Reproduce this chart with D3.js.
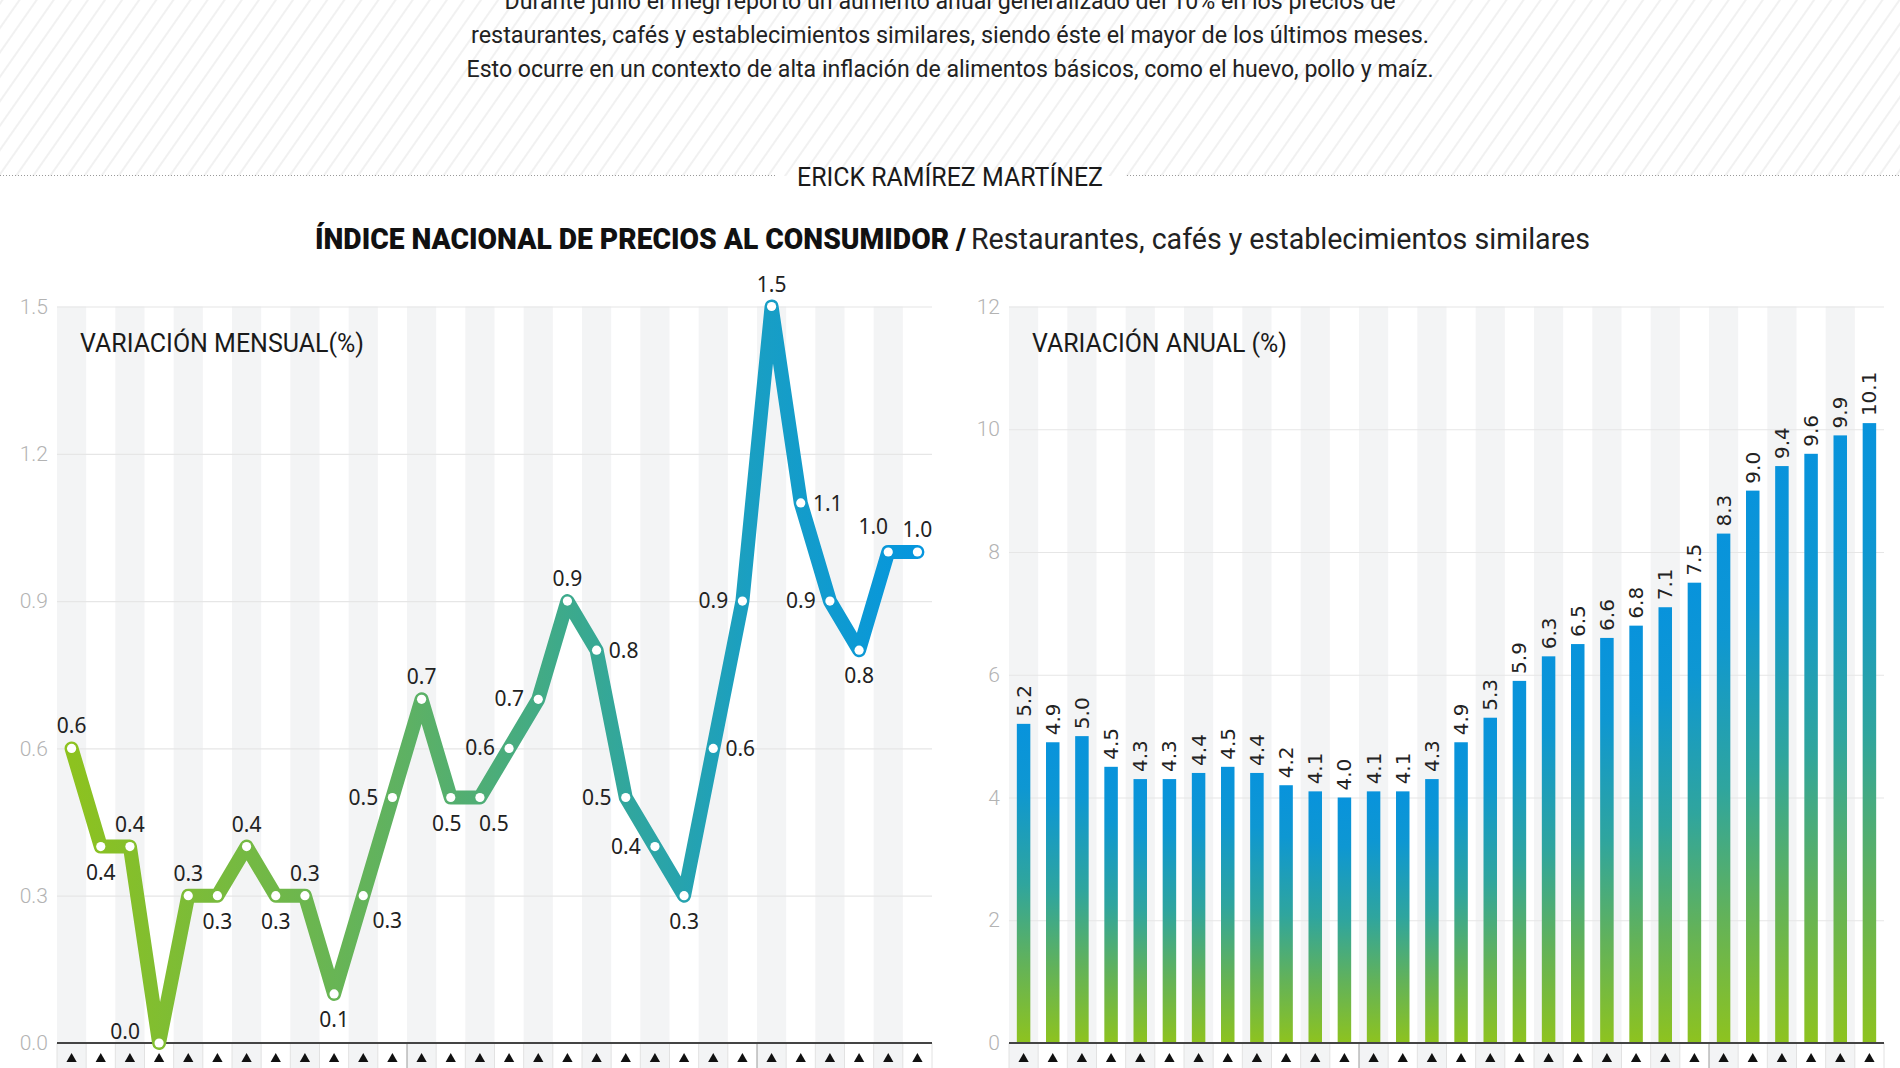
<!DOCTYPE html>
<html><head><meta charset="utf-8">
<script src="https://cdn.jsdelivr.net/npm/d3@7"></script>
<style>html,body{margin:0;padding:0;background:#fff;overflow:hidden}</style>
</head><body><svg id="c" width="1900" height="1068"></svg>
<script>
// ---------- DATA ----------
const months = ["ene 2020","feb 2020","mar 2020","abr 2020","may 2020","jun 2020","jul 2020","ago 2020","sep 2020","oct 2020","nov 2020","dic 2020",
                "ene 2021","feb 2021","mar 2021","abr 2021","may 2021","jun 2021","jul 2021","ago 2021","sep 2021","oct 2021","nov 2021","dic 2021",
                "ene 2022","feb 2022","mar 2022","abr 2022","may 2022","jun 2022"];
const monthly = [0.6,0.4,0.4,0.0,0.3,0.3,0.4,0.3,0.3,0.1,0.3,0.5,0.7,0.5,0.5,0.6,0.7,0.9,0.8,0.5,0.4,0.3,0.6,0.9,1.5,1.1,0.9,0.8,1.0,1.0];
const monthlyLabelSide = ["t","b","t","tl","t","b","t","b","t","b","br","l","t","bl","bR","l","l","t","r","l","l","b","r","l","t","r","l","b","tL","t"];
const annual = [5.2,4.9,5.0,4.5,4.3,4.3,4.4,4.5,4.4,4.2,4.1,4.0,4.1,4.1,4.3,4.9,5.3,5.9,6.3,6.5,6.6,6.8,7.1,7.5,8.3,9.0,9.4,9.6,9.9,10.1];
const monthlyTicks = [0,0.3,0.6,0.9,1.2,1.5];
const annualTicks = [0,2,4,6,8,10,12];
const introLines = [
  "Durante junio el Inegi reportó un aumento anual generalizado del 10% en los precios de",
  "restaurantes, cafés y establecimientos similares, siendo éste el mayor de los últimos meses.",
  "Esto ocurre en un contexto de alta inflación de alimentos básicos, como el huevo, pollo y maíz."
];
const author = "ERICK RAMÍREZ MARTÍNEZ";
const titleBold = "ÍNDICE NACIONAL DE PRECIOS AL CONSUMIDOR /";
const titleRegular = "Restaurantes, cafés y establecimientos similares";
const leftTitle = "VARIACIÓN MENSUAL(%)";
const rightTitle = "VARIACIÓN ANUAL (%)";

// ---------- LAYOUT / STYLE ----------
const W = 1900, H = 1068;
const cond = "Roboto, 'Noto Sans', sans-serif";
const svg = d3.select("#c");
const defs = svg.append("defs");

// hatch
const pat = defs.append("pattern").attr("id","hatch").attr("patternUnits","userSpaceOnUse")
  .attr("width",14).attr("height",14).attr("patternTransform","rotate(35)");
pat.append("rect").attr("width",14).attr("height",14).attr("fill","#fff");
pat.append("line").attr("x1",2).attr("x2",2).attr("y1",0).attr("y2",14).attr("stroke","#f0f0f0").attr("stroke-width",1.8);
svg.append("rect").attr("x",0).attr("y",0).attr("width",W).attr("height",176).attr("fill","url(#hatch)");

// intro text
const introY = [9, 43, 77], introLen = [891, 958, 967];
introLines.forEach((t,i)=>{
  svg.append("text").attr("x",W/2).attr("y",introY[i]).attr("text-anchor","middle")
    .attr("font-family",cond).attr("font-size",24).attr("fill","#222")
    .attr("textLength",introLen[i]).attr("lengthAdjust","spacingAndGlyphs").text(t);
});

// separator + author
svg.append("line").attr("x1",0).attr("x2",775).attr("y1",175.5).attr("y2",175.5)
  .attr("stroke","#9a9a9a").attr("stroke-width",1).attr("stroke-dasharray","1,2");
svg.append("line").attr("x1",1127).attr("x2",W).attr("y1",175.5).attr("y2",175.5)
  .attr("stroke","#9a9a9a").attr("stroke-width",1).attr("stroke-dasharray","1,2");
svg.append("text").attr("x",W/2).attr("y",186).attr("text-anchor","middle")
  .attr("font-family",cond).attr("font-size",26).attr("fill","#1a1a1a")
  .attr("textLength",306).attr("lengthAdjust","spacingAndGlyphs").text(author);

// title
svg.append("text").attr("x",315).attr("y",249).attr("font-family",cond).attr("font-weight",900)
  .attr("font-size",30).attr("fill","#111").attr("textLength",651).attr("lengthAdjust","spacingAndGlyphs").text(titleBold);
svg.append("text").attr("x",971).attr("y",249).attr("font-family",cond).attr("font-weight",400)
  .attr("font-size",30).attr("fill","#222").attr("textLength",619).attr("lengthAdjust","spacingAndGlyphs").text(titleRegular);

const plotTop = 306.5, base = 1043;

// gradients
const lg = defs.append("linearGradient").attr("id","lineGrad").attr("gradientUnits","userSpaceOnUse")
  .attr("x1",72).attr("x2",918).attr("y1",0).attr("y2",0);
[[0,"#8dc21f"],[0.4,"#5db164"],[0.6,"#3aa98f"],[0.8,"#1a9fc2"],[1,"#0596de"]].forEach(s=>
  lg.append("stop").attr("offset",s[0]).attr("stop-color",s[1]));
const bg = defs.append("linearGradient").attr("id","barGrad").attr("x1",0).attr("y1",1).attr("x2",0).attr("y2",0);
[[0,"#8ec31f"],[0.25,"#62b25a"],[0.5,"#2fa59e"],[0.8,"#0e97d2"],[1,"#0893dc"]].forEach(s=>
  bg.append("stop").attr("offset",s[0]).attr("stop-color",s[1]));

function frame(x0, x1, y, ticks, fmt) {
  const xb = d3.scaleBand().domain(months).range([x0,x1]);
  const g = svg.append("g");
  g.selectAll("rect.stripe").data(months.filter((d,i)=>i%2===0)).join("rect")
    .attr("x",d=>xb(d)).attr("y",plotTop).attr("width",xb.bandwidth()).attr("height",H-plotTop)
    .attr("fill","#f3f4f5");
  const ax = g.append("g").attr("transform",`translate(${x0},0)`)
    .call(d3.axisLeft(y).tickValues(ticks).tickSize(-(x1-x0)).tickPadding(9).tickFormat(fmt));
  ax.select(".domain").remove();
  ax.selectAll(".tick line").attr("stroke","#e6e6e6").attr("stroke-width",1.2);
  ax.selectAll(".tick text").attr("font-family",cond).attr("font-size",21).attr("fill","#b3b3b3").attr("font-weight",300);
  g.selectAll("line.sep").data(d3.range(months.length+1)).join("line")
    .attr("x1",i=>x0+i*xb.step()).attr("x2",i=>x0+i*xb.step()).attr("y1",base).attr("y2",H)
    .attr("stroke",i=>(i%12===0 && i>0 && i<months.length)?"#9a9a9a":"#e2e2e2").attr("stroke-width",1);
  g.selectAll("path.tri").data(months).join("path")
    .attr("transform",d=>`translate(${xb(d)+xb.bandwidth()/2},${base+16})`)
    .attr("d",d3.symbol(d3.symbolTriangle,46)).attr("fill","#111");
  return {xb, g};
}

// ---------- LEFT: monthly line ----------
const yL = d3.scaleLinear().domain([0,1.5]).range([base,plotTop]);
const L = frame(57, 932, yL, monthlyTicks, d3.format(".1f"));
svg.append("line").attr("x1",57).attr("x2",932).attr("y1",base).attr("y2",base).attr("stroke","#444").attr("stroke-width",2);
const xL = d => L.xb(months[d]) + L.xb.bandwidth()/2;
svg.append("path").datum(monthly)
  .attr("d",d3.line().x((d,i)=>xL(i)).y(d=>yL(d)))
  .attr("fill","none").attr("stroke","url(#lineGrad)").attr("stroke-width",14)
  .attr("stroke-linejoin","round").attr("stroke-linecap","round");
svg.append("g").selectAll("circle").data(monthly).join("circle")
  .attr("cx",(d,i)=>xL(i)).attr("cy",d=>yL(d)).attr("r",4.6).attr("fill","#fff");
const off = {t:[0,-23],b:[0,25],l:[-29,-1],r:[27,0],tl:[-34,-12],br:[24,24],bl:[-4,25],bR:[14,25],tL:[-15,-26]};
svg.append("g").selectAll("text").data(monthly).join("text")
  .attr("x",(d,i)=>xL(i)+off[monthlyLabelSide[i]][0])
  .attr("y",(d,i)=>yL(d)+off[monthlyLabelSide[i]][1])
  .attr("text-anchor","middle").attr("dominant-baseline","central")
  .attr("font-family","'Noto Sans', sans-serif").attr("font-size",21).attr("fill","#222")
  .text(d=>d3.format(".1f")(d));
svg.append("text").attr("x",80).attr("y",352).attr("font-family",cond).attr("font-size",25).attr("fill","#1a1a1a")
  .attr("textLength",284).attr("lengthAdjust","spacingAndGlyphs").text(leftTitle);

// ---------- RIGHT: annual bars ----------
const yR = d3.scaleLinear().domain([0,12]).range([base,plotTop]);
const R = frame(1009, 1884, yR, annualTicks, d3.format("d"));
const bw = 13.5;
svg.append("g").selectAll("rect").data(annual).join("rect")
  .attr("x",(d,i)=>R.xb(months[i])+R.xb.bandwidth()/2-bw/2).attr("width",bw)
  .attr("y",d=>yR(d)).attr("height",d=>base-yR(d)).attr("fill","url(#barGrad)");
svg.append("line").attr("x1",1009).attr("x2",1884).attr("y1",base).attr("y2",base).attr("stroke","#444").attr("stroke-width",2);
svg.append("g").selectAll("text").data(annual).join("text")
  .attr("transform",(d,i)=>`translate(${R.xb(months[i])+R.xb.bandwidth()/2},${yR(d)-7}) rotate(-90)`)
  .attr("dominant-baseline","central").attr("text-anchor","start")
  .attr("font-family","'DejaVu Sans', sans-serif").attr("font-size",20).attr("fill","#222")
  .text(d=>d3.format(".1f")(d));
svg.append("text").attr("x",1032).attr("y",352).attr("font-family",cond).attr("font-size",25).attr("fill","#1a1a1a")
  .attr("textLength",255).attr("lengthAdjust","spacingAndGlyphs").text(rightTitle);
</script></body></html>
